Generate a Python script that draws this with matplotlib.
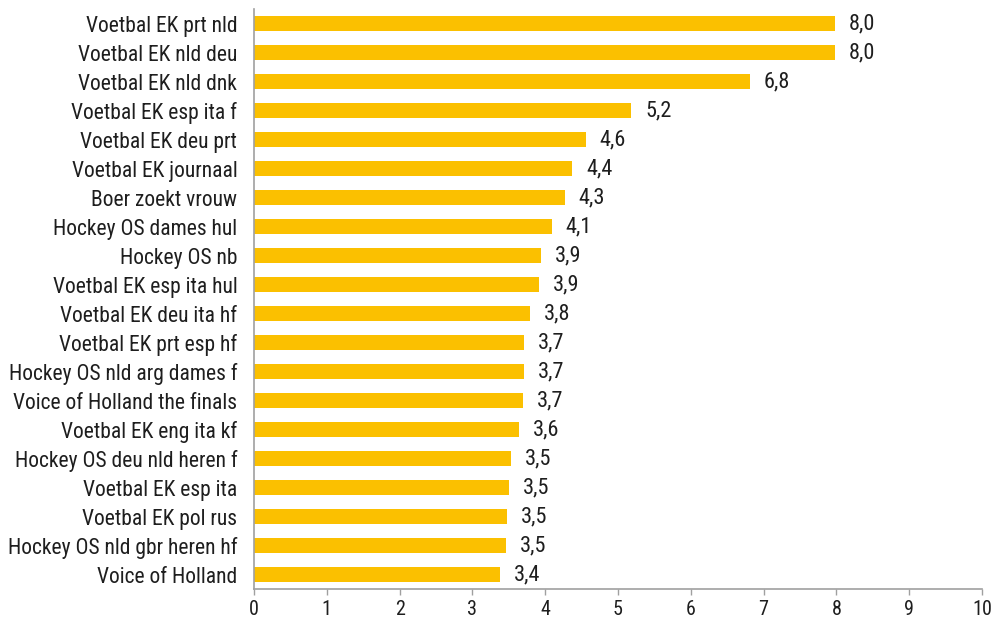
import matplotlib.pyplot as plt
from matplotlib import font_manager
import numpy as np

programmas = [
    'Voetbal EK prt nld', 'Voetbal EK nld deu', 'Voetbal EK nld dnk',
    'Voetbal EK esp ita f', 'Voetbal EK deu prt', 'Voetbal EK journaal',
    'Boer zoekt vrouw', 'Hockey OS dames hul', 'Hockey OS nb',
    'Voetbal EK esp ita hul', 'Voetbal EK deu ita hf', 'Voetbal EK prt esp hf',
    'Hockey OS nld arg dames f', 'Voice of Holland the finals',
    'Voetbal EK eng ita kf', 'Hockey OS deu nld heren f', 'Voetbal EK esp ita',
    'Voetbal EK pol rus', 'Hockey OS nld gbr heren hf', 'Voice of Holland',
]
kijkers = [7.98, 7.98, 6.81, 5.18, 4.56, 4.37, 4.27, 4.09, 3.94, 3.91,
           3.79, 3.71, 3.71, 3.70, 3.64, 3.53, 3.50, 3.48, 3.46, 3.38]

# een smal lettertype zoeken, anders DejaVu
names = {f.name for f in font_manager.fontManager.ttflist}
fam = 'DejaVu Sans'
for kandidaat in ['Liberation Sans Narrow', 'Arial Narrow', 'Roboto Condensed',
                  'Archivo Narrow', 'PT Sans Narrow', 'Open Sans Condensed']:
    if kandidaat in names:
        fam = kandidaat
        break
plt.rcParams['font.family'] = [fam, 'DejaVu Sans']

geel = '#FBC000'
grijs = '#A0A0A0'
tekst = '#1E1E1E'

fig = plt.figure(figsize=(9.98, 6.21), dpi=100)
ax = fig.add_axes([0.2545, 0.0515, 0.7295, 0.934])

y = np.arange(len(programmas))
ax.barh(y, kijkers, height=0.55, color=geel)
for yi, v in zip(y, kijkers):
    ax.annotate(f'{v:.1f}'.replace('.', ','), (v, yi), xytext=(10, 0),
                textcoords='offset points', va='center', ha='left',
                fontsize=16, color=tekst)

ax.set_ylim(len(programmas) - 0.5, -0.5)
ax.set_yticks(y)
ax.set_yticklabels(programmas, fontsize=15.5, color=tekst)
ax.set_xlim(0, 10)
ax.set_xticks(range(0, 11))
ax.tick_params(axis='x', labelsize=14.5, colors=grijs, labelcolor=tekst,
               length=4, width=1, pad=4)
ax.tick_params(axis='y', length=0, pad=12)
for s in ['top', 'right']:
    ax.spines[s].set_visible(False)
for s in ['left', 'bottom']:
    ax.spines[s].set_color(grijs)
    ax.spines[s].set_linewidth(1.2)

fig.savefig('out.png', dpi=100)
